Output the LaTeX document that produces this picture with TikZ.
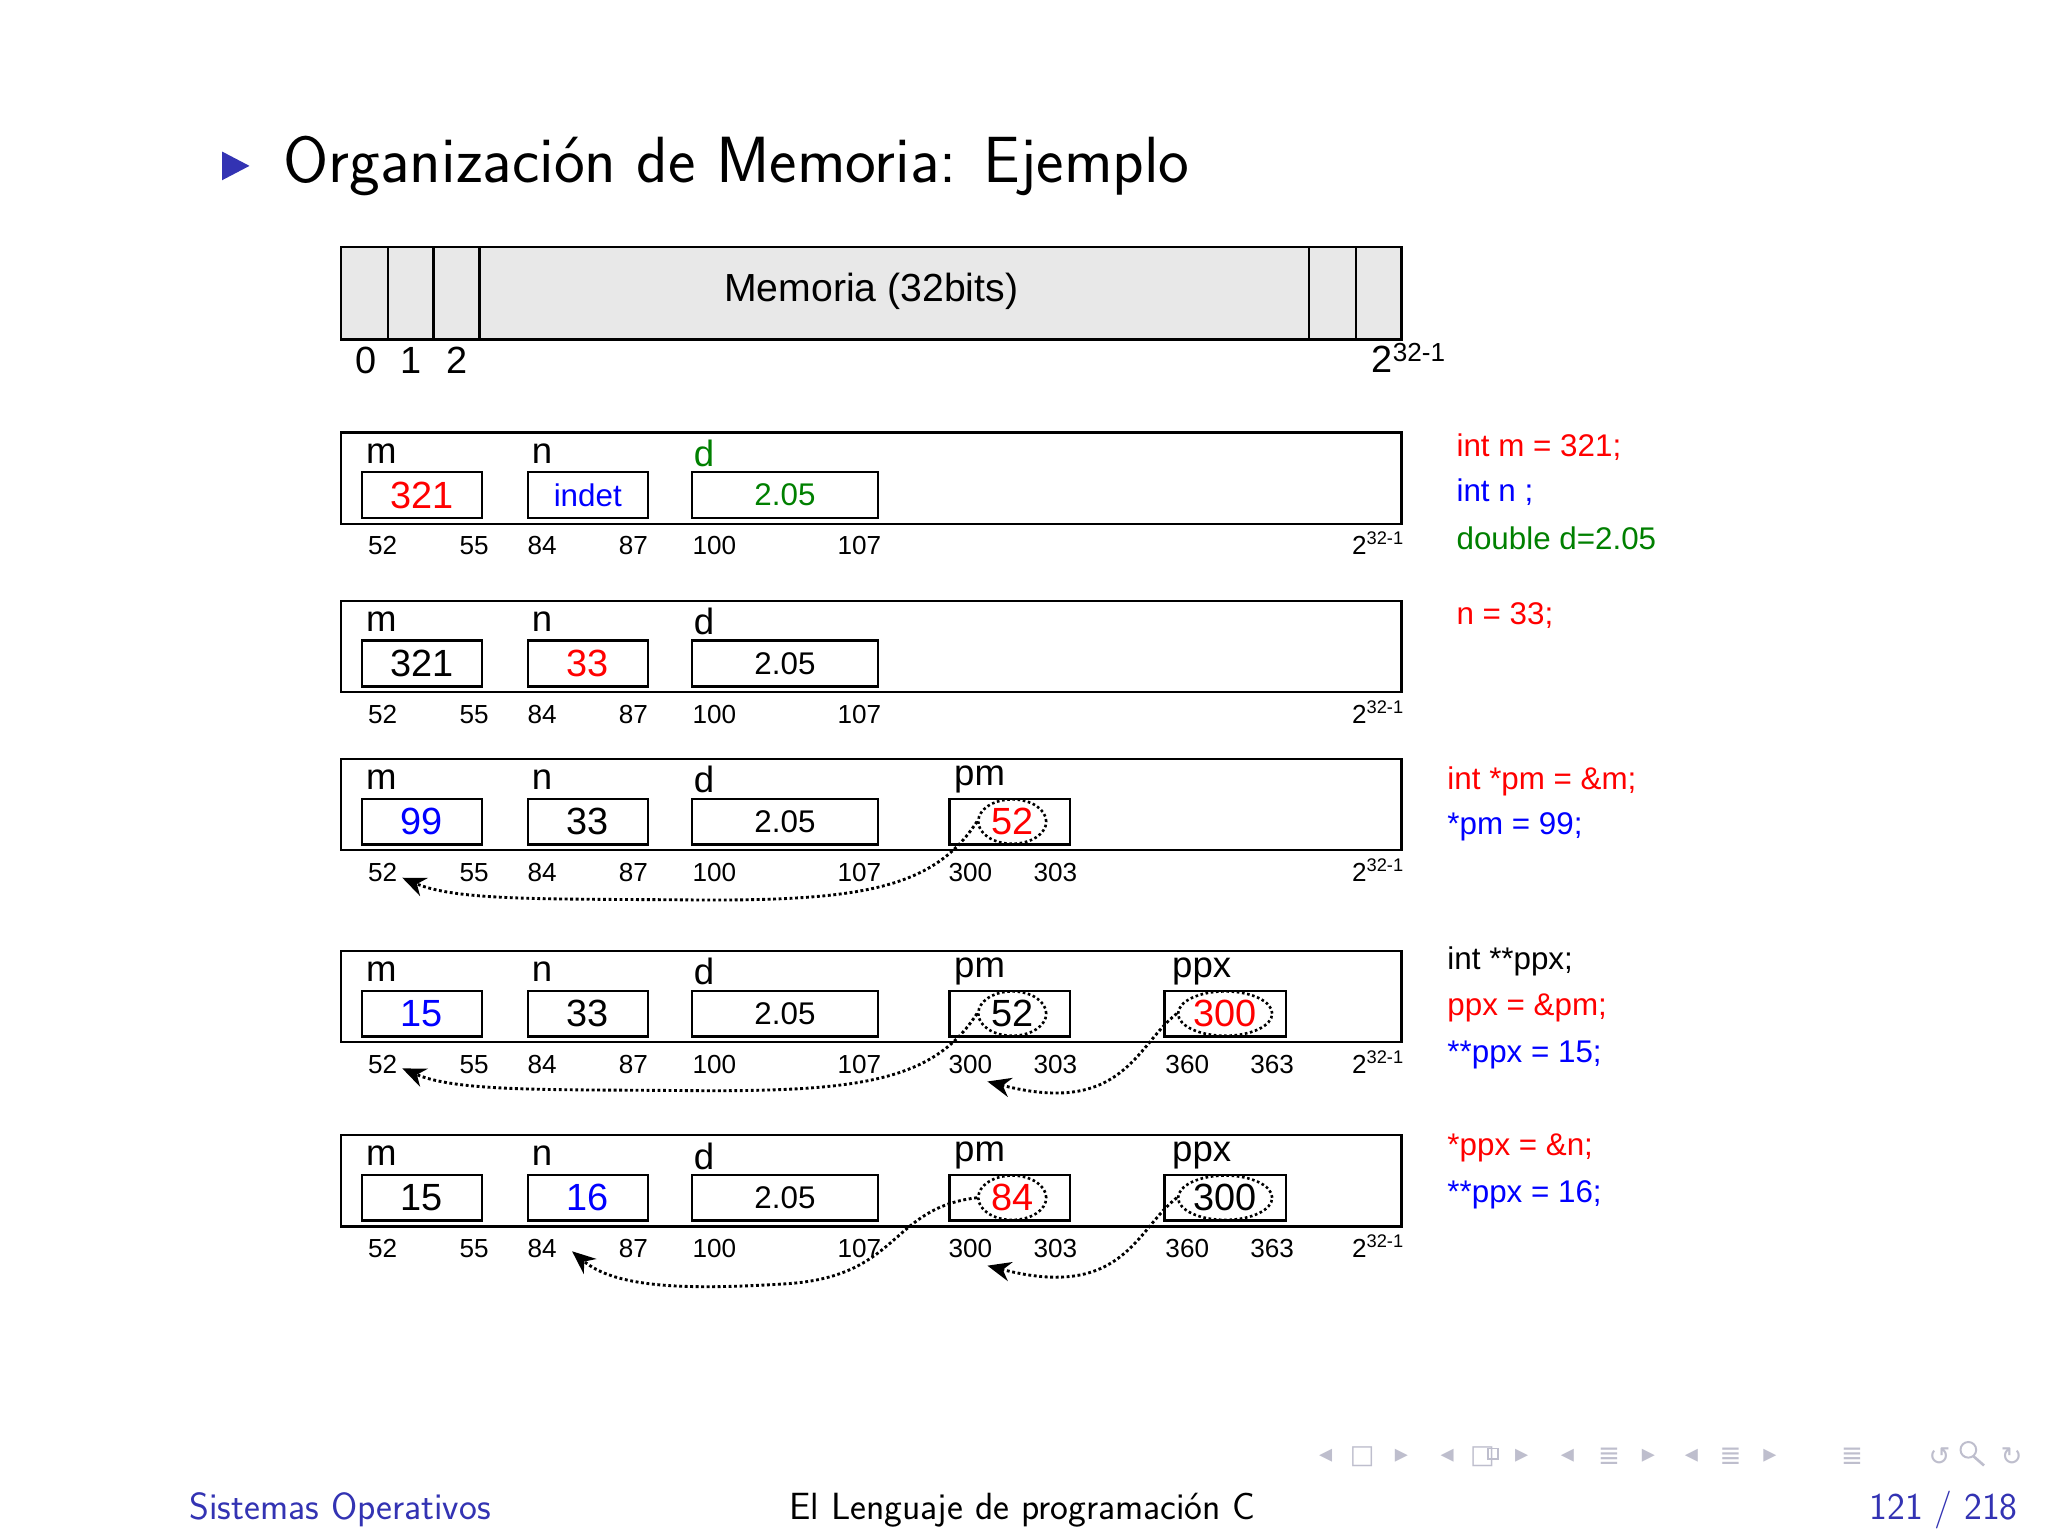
\documentclass[tikz,border=0pt]{standalone}
\usepackage{fontspec}
\newfontfamily\arial{Liberation Sans}
\newfontfamily\dvs{DejaVu Sans}
\usetikzlibrary{shapes.geometric,arrows.meta}
\definecolor{bblue}{RGB}{51,51,179}
\definecolor{dgreen}{RGB}{0,128,0}
\definecolor{navgray}{RGB}{190,190,205}
\tikzset{
 cell/.style={draw,line width=1.8pt,minimum height=35pt,inner sep=0pt},
 lab/.style={font=\arial\fontsize{28}{28}\selectfont,inner sep=0pt},
 val/.style={font=\arial\fontsize{29}{29}\selectfont,inner sep=0pt},
 addr/.style={font=\arial\fontsize{20}{20}\selectfont,inner sep=0pt},
 code/.style={font=\arial\fontsize{24}{24}\selectfont,inner sep=0pt,anchor=west},
 ell/.style={ellipse,draw,dotted,line width=2pt,inner sep=0pt},
 ptr/.style={dotted,line width=2.2pt,-{Stealth[length=18pt,width=15pt]}},
 frame/.style={draw,line width=1.8pt},
 navsym/.style={text=navgray,font=\dvs\fontsize{20}{20}\selectfont,inner sep=0pt}
}
\newcommand\tsup{2\textsuperscript{32-1}}
\newcommand\rowbase[3]{% top, name, d colour
 \draw[frame] (261,#1) rectangle (1073,#1+70);
 \node[lab] (#2lm) at (292,#1+16) {m};
 \node[lab] (#2ln) at (415,#1+16) {n};
 \node[lab,text=#3] (#2ld) at (539,#1+16) {d};
 \node[cell,minimum width=92pt] (#2m) at (323,#1+48) {};
 \node[cell,minimum width=92pt] (#2n) at (450,#1+48) {};
 \node[cell,minimum width=142pt] (#2d) at (601,#1+48) {};
 \node[addr] (#2a1) at (293,#1+87) {52};
 \node[addr] (#2a2) at (363,#1+87) {55};
 \node[addr] (#2a3) at (415,#1+87) {84};
 \node[addr] (#2a4) at (485,#1+87) {87};
 \node[addr] (#2a5) at (547,#1+87) {100};
 \node[addr] (#2a6) at (658,#1+87) {107};
 \node[addr,anchor=west] (#2top) at (1035,#1+85) {\tsup};
}
\newcommand\pmbox[2]{%
 \node[lab] (#2lp) at (750,#1+16) {pm};
 \node[cell,minimum width=92pt] (#2p) at (773,#1+48) {};
 \node[addr] (#2a7) at (743,#1+87) {300};
 \node[addr] (#2a8) at (808,#1+87) {303};
}
\newcommand\ppxbox[2]{%
 \node[lab] (#2lx) at (920,#1+16) {ppx};
 \node[cell,minimum width=93pt] (#2x) at (938,#1+48) {};
 \node[addr] (#2a9) at (909,#1+87) {360};
 \node[addr] (#2a10) at (974,#1+87) {363};
}
\begin{document}
\begin{tikzpicture}[x=1pt,y=-1pt]
\useasboundingbox[fill=white] (0,0) rectangle (1568,1176);
% title
\fill[bblue] (170,116) -- (191,127) -- (170,138) -- cycle;
\node[anchor=west,inner sep=0pt,font=\sffamily\fontsize{50}{50}\selectfont] (title) at (217,127) {Organización de Memoria: Ejemplo};
% memory bar
\draw[frame,fill=black!9] (261,189) rectangle (1073,260);
\foreach \x in {297,332,367,1002,1038} \draw[line width=1.8pt] (\x,189) -- (\x,260);
\node[font=\arial\fontsize{30}{30}\selectfont,inner sep=0pt] (mem) at (667,223) {Memoria (32bits)};
\node[font=\arial\fontsize{29}{29}\selectfont,inner sep=0pt] (z0) at (280,276) {0};
\node[font=\arial\fontsize{29}{29}\selectfont,inner sep=0pt] (z1) at (315,276) {1};
\node[font=\arial\fontsize{29}{29}\selectfont,inner sep=0pt] (z2) at (350,276) {2};
\node[font=\arial\fontsize{29}{29}\selectfont,inner sep=0pt,anchor=west] (ztop) at (1050,274) {2\textsuperscript{\fontsize{20}{20}\selectfont 32-1}};
% row 1
\rowbase{331}{a}{dgreen}
\node[val,text=red] at (am) {321};
\node[val,text=blue,font=\arial\fontsize{24}{24}\selectfont] at (an) {indet};
\node[val,text=dgreen,font=\arial\fontsize{24}{24}\selectfont] at (ad) {2.05};
\node[code,text=red] (c1) at (1115,342) {int m = 321;};
\node[code,text=blue] (c2) at (1115,377) {int n ;};
\node[code,text=dgreen] (c3) at (1115,412) {double d=2.05};
% row 2
\rowbase{460}{b}{black}
\node[val] at (bm) {321};
\node[val,text=red] at (bn) {33};
\node[val,font=\arial\fontsize{24}{24}\selectfont] at (bd) {2.05};
\node[code,text=red] (c4) at (1115,471) {n = 33;};
% row 3
\rowbase{581}{c}{black}
\pmbox{581}{c}
\node[val,text=blue] at (cm) {99};
\node[val] at (cn) {33};
\node[val,font=\arial\fontsize{24}{24}\selectfont] at (cd) {2.05};
\node[ell,minimum width=52pt,minimum height=34pt] (ce) at (775,629) {};
\node[val,text=red] at (ce) {52};
\coordinate (ct) at (308,672);
\draw[ptr] (ce.west) .. controls (715,680) and (660,690) .. (530,689) .. controls (420,688) and (350,690) .. (ct);
\node[code,text=red] (c5) at (1108,598) {int *pm = \&m;};
\node[code,text=blue] (c6) at (1108,633) {*pm = 99;};
% row 4
\rowbase{728}{d}{black}
\pmbox{728}{d}
\ppxbox{728}{d}
\node[val,text=blue] at (dm) {15};
\node[val] at (dn) {33};
\node[val,font=\arial\fontsize{24}{24}\selectfont] at (dd) {2.05};
\node[ell,minimum width=52pt,minimum height=34pt] (de) at (775,776) {};
\node[val] at (de) {52};
\node[ell,minimum width=72pt,minimum height=34pt] (dx2) at (938,776) {};
\node[val,text=red] at (dx2) {300};
\coordinate (dt) at (308,818);
\coordinate (dt2) at (756,828);
\draw[ptr] (de.west) .. controls (715,827) and (660,836) .. (530,835) .. controls (420,834) and (350,836) .. (dt);
\draw[ptr] (dx2.west) .. controls (870,800) and (860,855) .. (dt2);
\node[code] (c7) at (1108,736) {int **ppx;};
\node[code,text=red] (c8) at (1108,772) {ppx = \&pm;};
\node[code,text=blue] (c9) at (1108,808) {**ppx = 15;};
% row 5
\rowbase{869}{e}{black}
\pmbox{869}{e}
\ppxbox{869}{e}
\node[val] at (em) {15};
\node[val,text=blue] at (en) {16};
\node[val,font=\arial\fontsize{24}{24}\selectfont] at (ed) {2.05};
\node[ell,minimum width=52pt,minimum height=34pt] (ee) at (775,917) {};
\node[val,text=red] at (ee) {84};
\node[ell,minimum width=72pt,minimum height=34pt] (ex2) at (938,917) {};
\node[val] at (ex2) {300};
\coordinate (et) at (438,958);
\coordinate (et2) at (756,969);
\draw[ptr] (ee.west) .. controls (680,925) and (690,978) .. (600,983) .. controls (520,988) and (470,985) .. (et);
\draw[ptr] (ex2.west) .. controls (870,941) and (860,996) .. (et2);
\node[code,text=red] (c10) at (1108,879) {*ppx = \&n;};
\node[code,text=blue] (c11) at (1108,915) {**ppx = 16;};
% navigation symbols
\foreach \x/\s [count=\i] in {1015/◂,1043/□,1073/▸,1108/◂,1135/□,1165/▸,1200/◂,1232/≣,1262/▸,1295/◂,1325/≣,1355/▸,1418/≣,1485/↺,1540/↻}
  \node[navsym] (nav\i) at (\x,1115) {\s};
\draw[navgray,line width=1.5pt] (1139,1109) rectangle (1147,1117);
\draw[navgray,line width=1.5pt] (1507,1110) circle (6pt);
\draw[navgray,line width=2pt] (1511,1115) -- (1519,1122);
% footer
\node[anchor=west,inner sep=0pt,text=bblue,font=\sffamily\fontsize{29}{29}\selectfont] (f1) at (145,1156) {Sistemas Operativos};
\node[inner sep=0pt,font=\sffamily\fontsize{29}{29}\selectfont] (f2) at (783,1156) {El Lenguaje de programación C};
\node[anchor=east,inner sep=0pt,text=bblue,font=\sffamily\fontsize{29}{29}\selectfont] (f3) at (1545,1156) {121 / 218};
\end{tikzpicture}
\end{document}
